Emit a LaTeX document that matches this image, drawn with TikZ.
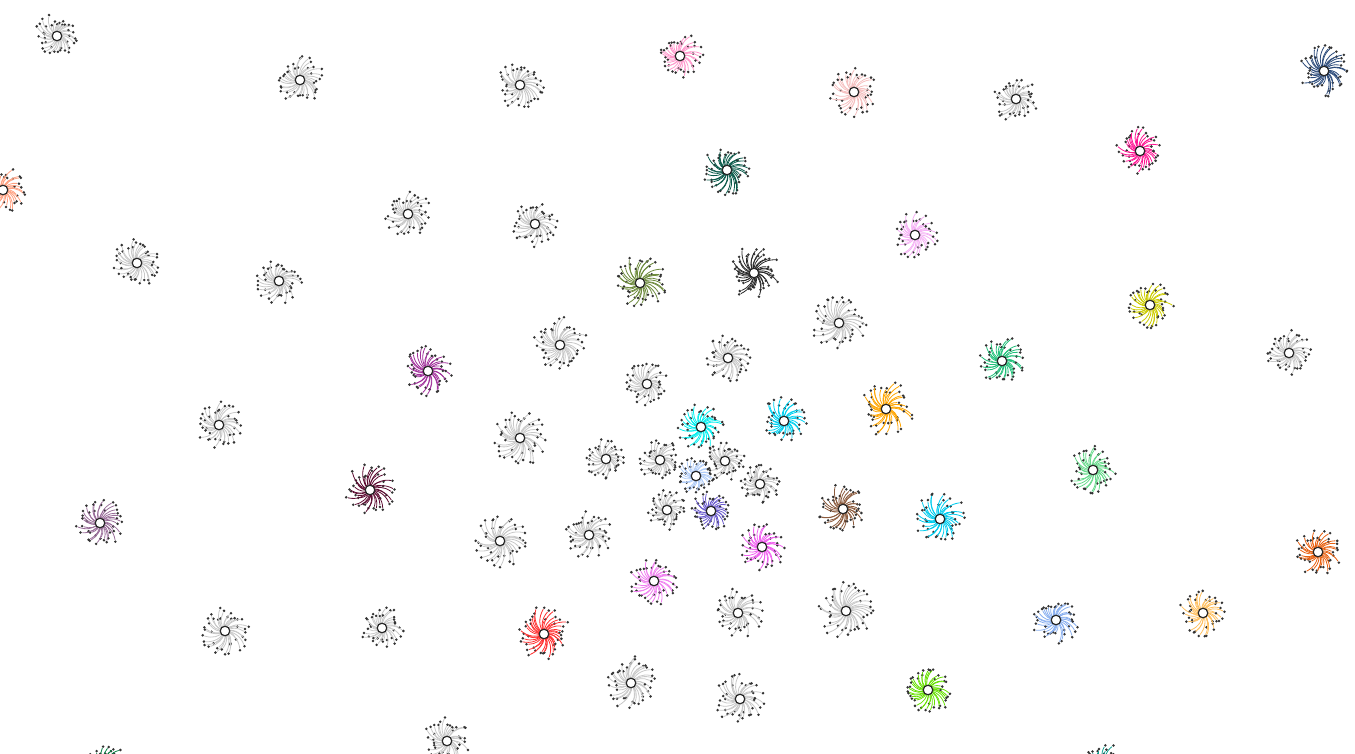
\documentclass[tikz,border=0pt]{standalone}
\usetikzlibrary{calc}
\definecolor{cgray}{HTML}{C8C8C8}
\definecolor{pinkA}{HTML}{FF99CC}
\definecolor{pinkB}{HTML}{F5C0C0}
\definecolor{navy}{HTML}{2B4A7A}
\definecolor{tealA}{HTML}{0A5A4A}
\definecolor{deeppink}{HTML}{FF1493}
\definecolor{salmon}{HTML}{FFA080}
\definecolor{plumA}{HTML}{F5B0F5}
\definecolor{oliveA}{HTML}{6E8B3D}
\definecolor{darkA}{HTML}{2A2A2A}
\definecolor{yellowA}{HTML}{CCCC00}
\definecolor{purpleA}{HTML}{A0309A}
\definecolor{greenA}{HTML}{22C07A}
\definecolor{orangeA}{HTML}{FFA500}
\definecolor{cyanA}{HTML}{00EEEE}
\definecolor{cyanB}{HTML}{00D0F0}
\definecolor{lightblue}{HTML}{B0CCF8}
\definecolor{lightgreen}{HTML}{66D98A}
\definecolor{maroon}{HTML}{5C0A30}
\definecolor{mauve}{HTML}{9A6E9A}
\definecolor{brownA}{HTML}{8B5A3C}
\definecolor{slateA}{HTML}{6A5ACD}
\definecolor{skyA}{HTML}{00CCEE}
\definecolor{magentaA}{HTML}{F060F0}
\definecolor{violetA}{HTML}{F080F0}
\definecolor{darkorange}{HTML}{E86010}
\definecolor{redA}{HTML}{FF3030}
\definecolor{cornflower}{HTML}{8AB0F0}
\definecolor{lightorange}{HTML}{FFC060}
\definecolor{limeA}{HTML}{66E000}
\definecolor{greenB}{HTML}{008040}
\definecolor{tealB}{HTML}{10A090}
\tikzset{
  dotnode/.style={circle,fill=black!80,inner sep=0pt,minimum size=1.4pt},
  hubnode/.style={circle,draw=black!85,line width=0.6pt,fill=white,inner sep=0pt,minimum size=4.8pt},
  edgeline/.style={line width=0.4pt},
}
\newcommand\swirl[6]{%
  \coordinate (c#1) at (#2,#3);
  \pgfmathsetseed{#1*37+11}%
  \foreach \k in {1,...,#5}{%
    \pgfmathsetmacro\ang{\k*360/#5+rnd*10}%
    \pgfmathsetmacro\rad{#6*(0.5+0.5*rnd)}%
    \node[dotnode] (c#1-\k) at ($(c#1)+(\ang:\rad)$) {};
    \draw[edgeline,draw=#4] (c#1) to[bend left=32] (c#1-\k);
  }%
  \node[hubnode] (h#1) at (c#1) {};
}
\begin{document}
\begin{tikzpicture}[x=0.5pt,y=-0.5pt]
\useasboundingbox (0,0) rectangle (1355,754);
\swirl{1}{57}{36}{cgray}{38}{23}
\swirl{2}{300}{80}{cgray}{38}{25}
\swirl{3}{520}{85}{cgray}{38}{24}
\swirl{4}{680}{56}{pinkA}{38}{24}
\swirl{5}{854}{92}{pinkB}{38}{25}
\swirl{6}{1016}{99}{cgray}{38}{23}
\swirl{7}{1324}{71}{navy}{38}{26}
\swirl{8}{727}{170}{tealA}{40}{25}
\swirl{9}{1140}{151}{deeppink}{38}{24}
\swirl{10}{3}{190}{salmon}{38}{23}
\swirl{11}{408}{214}{cgray}{38}{24}
\swirl{12}{535}{224}{cgray}{38}{23}
\swirl{13}{915}{235}{plumA}{38}{24}
\swirl{14}{137}{263}{cgray}{38}{25}
\swirl{15}{279}{281}{cgray}{38}{24}
\swirl{16}{640}{283}{oliveA}{40}{27}
\swirl{17}{754}{273}{darkA}{40}{27}
\swirl{18}{1150}{305}{yellowA}{38}{24}
\swirl{19}{839}{323}{cgray}{40}{28}
\swirl{20}{560}{345}{cgray}{40}{28}
\swirl{21}{728}{358}{cgray}{38}{24}
\swirl{22}{1289}{353}{cgray}{38}{23}
\swirl{23}{428}{371}{purpleA}{38}{25}
\swirl{24}{1002}{361}{greenA}{38}{25}
\swirl{25}{647}{384}{cgray}{36}{22}
\swirl{26}{886}{409}{orangeA}{40}{28}
\swirl{27}{219}{425}{cgray}{38}{24}
\swirl{28}{520}{438}{cgray}{40}{28}
\swirl{29}{701}{427}{cyanA}{38}{24}
\swirl{30}{784}{421}{cyanB}{38}{24}
\swirl{31}{606}{459}{cgray}{36}{21}
\swirl{32}{660}{460}{cgray}{36}{21}
\swirl{33}{725}{461}{cgray}{36}{20}
\swirl{34}{696}{476}{lightblue}{36}{20}
\swirl{35}{760}{484}{cgray}{36}{20}
\swirl{36}{1093}{470}{lightgreen}{38}{24}
\swirl{37}{370}{490}{maroon}{38}{26}
\swirl{38}{100}{523}{mauve}{38}{25}
\swirl{39}{843}{509}{brownA}{38}{25}
\swirl{40}{667}{510}{cgray}{36}{20}
\swirl{41}{711}{511}{slateA}{36}{20}
\swirl{42}{940}{519}{skyA}{40}{27}
\swirl{43}{500}{541}{cgray}{40}{27}
\swirl{44}{589}{535}{cgray}{38}{24}
\swirl{45}{762}{547}{magentaA}{38}{24}
\swirl{46}{654}{581}{violetA}{38}{25}
\swirl{47}{1318}{552}{darkorange}{38}{24}
\swirl{48}{382}{628}{cgray}{36}{22}
\swirl{49}{225}{631}{cgray}{38}{25}
\swirl{50}{544}{634}{redA}{40}{28}
\swirl{51}{738}{613}{cgray}{38}{25}
\swirl{52}{846}{611}{cgray}{40}{29}
\swirl{53}{1056}{620}{cornflower}{38}{24}
\swirl{54}{1203}{613}{lightorange}{38}{24}
\swirl{55}{631}{683}{cgray}{40}{27}
\swirl{56}{740}{699}{cgray}{38}{26}
\swirl{57}{928}{690}{limeA}{38}{25}
\swirl{58}{447}{741}{cgray}{38}{24}
\swirl{59}{105}{766}{greenB}{38}{23}
\swirl{60}{1105}{766}{tealB}{38}{23}
\end{tikzpicture}
\end{document}
